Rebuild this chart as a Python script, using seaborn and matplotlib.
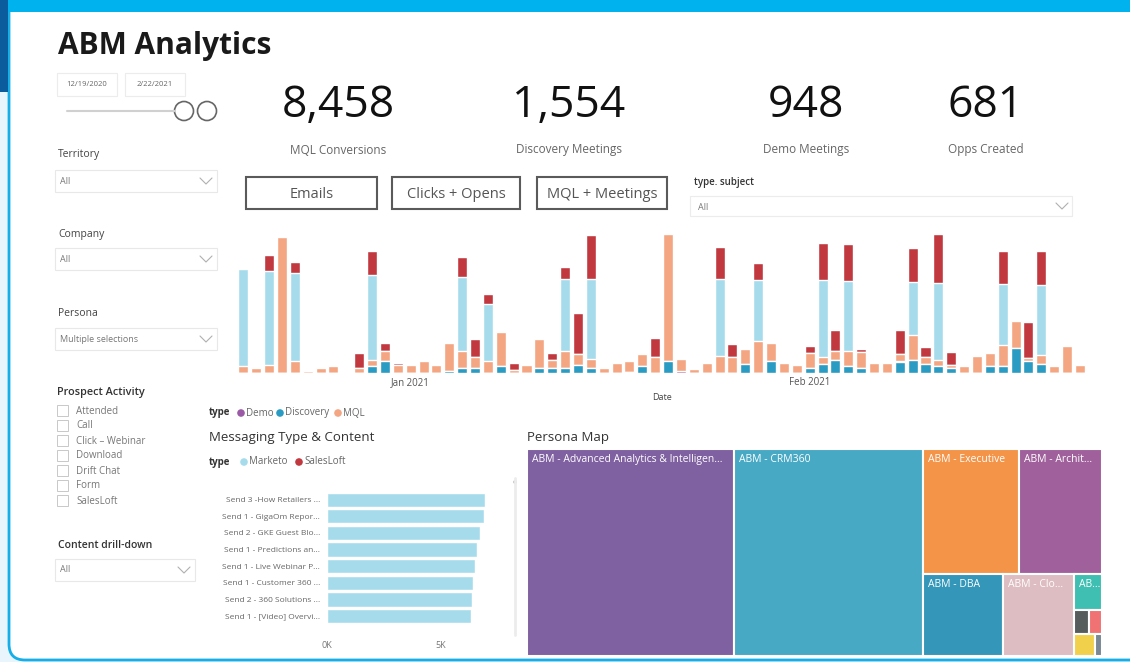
import numpy as np
import pandas as pd
import matplotlib
matplotlib.use("Agg")
import matplotlib.pyplot as plt
from matplotlib.patches import Rectangle, FancyBboxPatch, Circle
import seaborn as sns

# ---- data ----
dates = pd.date_range("2020-12-19", "2021-02-22", freq="D")
discovery = [0, 0, 0, 0, 0, 0, 0, 0, 0, 0, 7, 12, 0, 0, 0, 0, 2, 5, 5, 0,
             7, 0, 0, 5, 5, 5, 8, 5, 0, 0, 1, 7, 0, 12, 0, 0, 0, 0, 0, 9,
             0, 12, 0, 0, 5, 9, 13, 7, 5, 0, 0, 11, 13, 9, 7, 5, 0, 0, 7, 7,
             25, 12, 9, 0, 0, 0]
demo = [0, 0, 0, 0, 0, 0, 0, 0, 0, 0, 0, 0, 0, 0, 0, 0, 0, 0, 0, 0,
        0, 0, 0, 0, 0, 0, 0, 0, 0, 0, 0, 0, 0, 0, 2, 0, 0, 0, 0, 0,
        0, 0, 0, 0, 0, 0, 0, 0, 0, 0, 0, 1, 0, 0, 0, 0, 0, 0, 0, 0,
        0, 0, 0, 0, 0, 0]
mql = [7, 5, 8, 136, 12, 2, 5, 7, 0, 5, 6, 10, 8, 8, 12, 8, 28, 17, 11, 12,
       34, 3, 8, 29, 8, 17, 11, 9, 5, 10, 11, 12, 16, 127, 12, 4, 10, 17, 16, 15,
       32, 18, 10, 8, 15, 7, 9, 15, 16, 10, 10, 7, 25, 7, 6, 3, 7, 17, 13, 21,
       27, 3, 9, 7, 27, 8]
marketo = [97, 0, 94, 0, 88, 0, 0, 0, 0, 0, 85, 0, 0, 0, 0, 0, 0, 74, 0, 57,
           0, 0, 0, 0, 0, 72, 0, 80, 0, 0, 0, 0, 0, 0, 0, 0, 0, 77, 0, 0,
           61, 0, 0, 0, 0, 77, 0, 70, 0, 0, 0, 0, 53, 0, 77, 0, 0, 0, 0, 61,
           0, 0, 70, 0, 0, 0]
salesloft = [0, 0, 16, 0, 11, 0, 0, 0, 0, 15, 24, 8, 2, 0, 0, 0, 0, 20, 18, 10,
             0, 7, 0, 0, 7, 12, 41, 44, 0, 0, 0, 0, 19, 0, 0, 0, 0, 32, 13, 0,
             17, 0, 0, 0, 7, 37, 21, 37, 3, 0, 0, 24, 34, 10, 49, 13, 0, 0, 0, 33,
             0, 36, 34, 0, 0, 0]

kpi_values = ["8,458", "1,554", "948", "681"]
kpi_labels = ["MQL Conversions", "Discovery Meetings", "Demo Meetings", "Opps Created"]

msg_labels = ["Send 3 -How Retailers ...", "Send 1 - GigaOm Repor...",
              "Send 2 - GKE Guest Blo...", "Send 1 - Predictions an...",
              "Send 1 - Live Webinar P...", "Send 1 - Customer 360 ...",
              "Send 2 - 360 Solutions ...", "Send 1 - [Video] Overvi..."]
msg_values = [6930, 6860, 6710, 6560, 6490, 6390, 6350, 6300]

persona_labels = ["ABM - Advanced Analytics & Intelligen...", "ABM - CRM360",
                  "ABM - Executive", "ABM - Archit...", "ABM - DBA", "ABM - Clo...",
                  "AB...", "", "", "", ""]
persona_values = [849, 778, 238, 206, 129, 116, 20, 7, 6.5, 9, 3]
persona_colors = ["#7f60a0", "#48a9c5", "#f39448", "#a0609b", "#3497b9", "#ddbdc1",
                  "#3fbfb2", "#565b5c", "#f07272", "#f1d04b", "#7a8794"]

prospect_items = ["Attended", "Call", "Click \u2013 Webinar", "Download",
                  "Drift Chat", "Form", "SalesLoft"]

C_DISC, C_DEMO, C_MQL = "#2a9bc3", "#9a5aa6", "#f4a582"
C_MKT, C_SL = "#a6dbec", "#c1393f"

sns.set_theme(style="white")
plt.rcParams["font.family"] = ["Open Sans", "DejaVu Sans"]

W, H = 1130, 662
fig = plt.figure(figsize=(11.3, 6.62), dpi=100, facecolor="#e9f5fc")


def fax(x0, y0, x1, y1):
    return [x0 / W, 1 - y1 / H, (x1 - x0) / W, (y1 - y0) / H]


# ---- background / frame ----
bg = fig.add_axes([0, 0, 1, 1])
bg.set_xlim(0, W)
bg.set_ylim(H, 0)
bg.axis("off")
bg.add_patch(FancyBboxPatch((9, -20), 1200, 680, boxstyle="round,pad=0,rounding_size=16",
                            facecolor="white", edgecolor="#14aee8", lw=2))
bg.add_patch(Rectangle((0, 0), W, 12, facecolor="#00b2ee", edgecolor="none"))
bg.add_patch(Rectangle((0, 0), 8, 92, facecolor="#0a5c9c", edgecolor="none"))

bg.text(58, 46, "ABM Analytics", fontsize=21.5, fontweight="bold", color="#1a1a1a",
        va="center", ha="left")

# date slider
for (x0, txt) in [(57, "12/19/2020"), (125, "2/22/2021")]:
    bg.add_patch(Rectangle((x0, 73), 60, 23, facecolor="white", edgecolor="#ececec", lw=0.8))
    bg.text(x0 + 30, 85, txt, fontsize=5.5, color="#666", ha="center", va="center")
bg.plot([67, 175], [111, 111], color="#d0d0d0", lw=1.5)
for cx in [184, 207]:
    bg.add_patch(Circle((cx, 111), 9.5, facecolor="white", edgecolor="#666", lw=1.2))


def chevron(cx, cy):
    bg.plot([cx - 6, cx, cx + 6], [cy - 3, cy + 3, cy - 3], color="#b0b0b0", lw=0.8)


def slicer(title, y_title, y_box, text, x1=217, bold=False):
    bg.text(58, y_title, title, fontsize=7.5, color="#333" if bold else "#444",
            fontweight="semibold" if bold else "normal", va="center")
    bg.add_patch(Rectangle((55, y_box), x1 - 55, 22, facecolor="white",
                           edgecolor="#e8e8e8", lw=0.8))
    bg.text(60, y_box + 11, text, fontsize=6.5, color="#777", va="center")
    chevron(x1 - 11, y_box + 11)


slicer("Territory", 155, 170, "All")
slicer("Company", 234, 248, "All")
slicer("Persona", 313, 328, "Multiple selections")
slicer("Content drill-down", 546, 559, "All", x1=195, bold=True)

bg.text(57, 392, "Prospect Activity", fontsize=7.8, color="#333",
        fontweight="semibold", va="center")
for k, item in enumerate(prospect_items):
    yy = 411 + 15 * k
    bg.add_patch(Rectangle((57, yy - 6), 11, 11, facecolor="white", edgecolor="#c8c8c8", lw=0.7))
    bg.text(76, yy, item, fontsize=7, color="#777", va="center")

# KPI cards
for cx, val, lab in zip([338, 569, 806, 986], kpi_values, kpi_labels):
    bg.text(cx, 106, val, fontsize=32, color="#111", ha="center", va="center")
    bg.text(cx, 150, lab, fontsize=8.5, color="#666", ha="center", va="center")

# buttons
for x0, x1, txt in [(246, 377, "Emails"), (392, 520, "Clicks + Opens"),
                    (537, 667, "MQL + Meetings")]:
    bg.add_patch(Rectangle((x0, 177), x1 - x0, 32, facecolor="white",
                           edgecolor="#5a5a5a", lw=1.5))
    bg.text((x0 + x1) / 2, 194, txt, fontsize=10.5, color="#555",
            ha="center", va="center")

bg.text(694, 182, "type. subject", fontsize=7, color="#333", fontweight="semibold", va="center")
bg.add_patch(Rectangle((690, 196), 382, 20, facecolor="white", edgecolor="#ececec", lw=0.8))
bg.text(698, 207, "All", fontsize=6.5, color="#777", va="center")
bg.plot([1056, 1062, 1068], [203, 209, 203], color="#b0b0b0", lw=0.8)


def legend_row(y, items):
    bg.text(209, y, "type", fontsize=7, color="#333", fontweight="bold", va="center")
    for dot_x, color, txt in items:
        bg.add_patch(Circle((dot_x, y), 3.8, facecolor=color, edgecolor="none"))
        bg.text(dot_x + 5, y, txt, fontsize=7, color="#666", va="center")


legend_row(413, [(241, C_DEMO, "Demo"), (280, C_DISC, "Discovery"), (338, C_MQL, "MQL")])
bg.text(209, 437, "Messaging Type & Content", fontsize=9.5, color="#333", va="center")
legend_row(462, [(244, C_MKT, "Marketo"), (299, C_SL, "SalesLoft")])
bg.text(527, 437, "Persona Map", fontsize=9.5, color="#333", va="center")

# scrollbar
bg.plot([515, 515], [478, 635], color="#ececec", lw=2)
bg.add_patch(Circle((515, 482), 1.8, facecolor="#bbbbbb", edgecolor="none"))

# ---- stacked daily bars ----
ax = fig.add_axes(fax(236.9, 233, 1086.4, 373))
ax.set_facecolor("none")
idx = np.arange(len(dates))
layers = [discovery, demo, mql, marketo, salesloft]
colors = [C_DISC, C_DEMO, C_MQL, C_MKT, C_SL]
cum = np.cumsum(np.array(layers), axis=0)
df = pd.DataFrame({"day": idx})
for k in range(len(layers) - 1, -1, -1):
    df["val"] = cum[k]
    sns.barplot(data=df, x="day", y="val", color=colors[k], saturation=1,
                width=0.78, errorbar=None, ax=ax)
ax.set_ylim(0, 140)
ax.set_xlim(-0.5, len(dates) - 0.5)
tick_pos = [int(np.where(dates == pd.Timestamp(d))[0][0]) for d in ["2021-01-01", "2021-02-01"]]
ax.set_xticks(tick_pos)
ax.set_xticklabels([dates[p].strftime("%b %Y") for p in tick_pos], fontsize=7, color="#555")
ax.tick_params(axis="x", length=0, pad=3)
ax.set_yticks([])
ax.set_ylabel("")
ax.set_xlabel("Date", fontsize=6.5, color="#444")
ax.xaxis.set_label_coords((662 - 236.9) / (1086.4 - 236.9), -0.145)
sns.despine(ax=ax, left=True, bottom=True)

# ---- messaging bars ----
ax2 = fig.add_axes(fax(327, 491.4, 505, 624.4))
ax2.set_facecolor("none")
sns.barplot(x=msg_values, y=msg_labels, color=C_MKT, saturation=1, width=0.86,
            orient="h", errorbar=None, ax=ax2)
ax2.set_xlim(0, 7800)
ax2.set_xticks([0, 5000])
ax2.set_xticklabels(["0K", "5K"], fontsize=6.5, color="#777")
ax2.tick_params(axis="x", length=0, pad=12)
ax2.tick_params(axis="y", length=0, pad=5, labelsize=6, labelcolor="#666")
ax2.set_xlabel("")
ax2.set_ylabel("")
sns.despine(ax=ax2, left=True, bottom=True)


# ---- persona treemap ----
def squarify(values, x, y, w, h):
    total = float(sum(values))
    areas = [v * w * h / total for v in values]

    def worst(row, side):
        s = sum(row)
        return max(max(side * side * r / (s * s), s * s / (side * side * r)) for r in row)

    rects = []
    i = 0
    while i < len(areas):
        side = min(w, h)
        row = [areas[i]]
        j = i + 1
        while j < len(areas) and worst(row + [areas[j]], side) <= worst(row, side):
            row.append(areas[j])
            j += 1
        s = sum(row)
        if w >= h:
            cw = s / h
            yy = y
            for a in row:
                rects.append((x, yy, cw, a / cw))
                yy += a / cw
            x += cw
            w -= cw
        else:
            rh = s / w
            xx = x
            for a in row:
                rects.append((xx, y, a / rh, rh))
                xx += a / rh
            y += rh
            h -= rh
        i = j
    return rects


TW, TH = 575, 207
ax3 = fig.add_axes(fax(527, 449, 527 + TW, 449 + TH))
ax3.set_xlim(0, TW)
ax3.set_ylim(TH, 0)
ax3.axis("off")
for (rx, ry, rw, rh), lab, col in zip(squarify(persona_values, 0, 0, TW, TH),
                                       persona_labels, persona_colors):
    ax3.add_patch(Rectangle((rx, ry), rw, rh, facecolor=col, edgecolor="white", lw=1.5))
    if lab:
        ax3.text(rx + 5, ry + 5, lab, fontsize=7.5, color="white", va="top", ha="left")

fig.savefig("out.png", dpi=100, facecolor=fig.get_facecolor())
